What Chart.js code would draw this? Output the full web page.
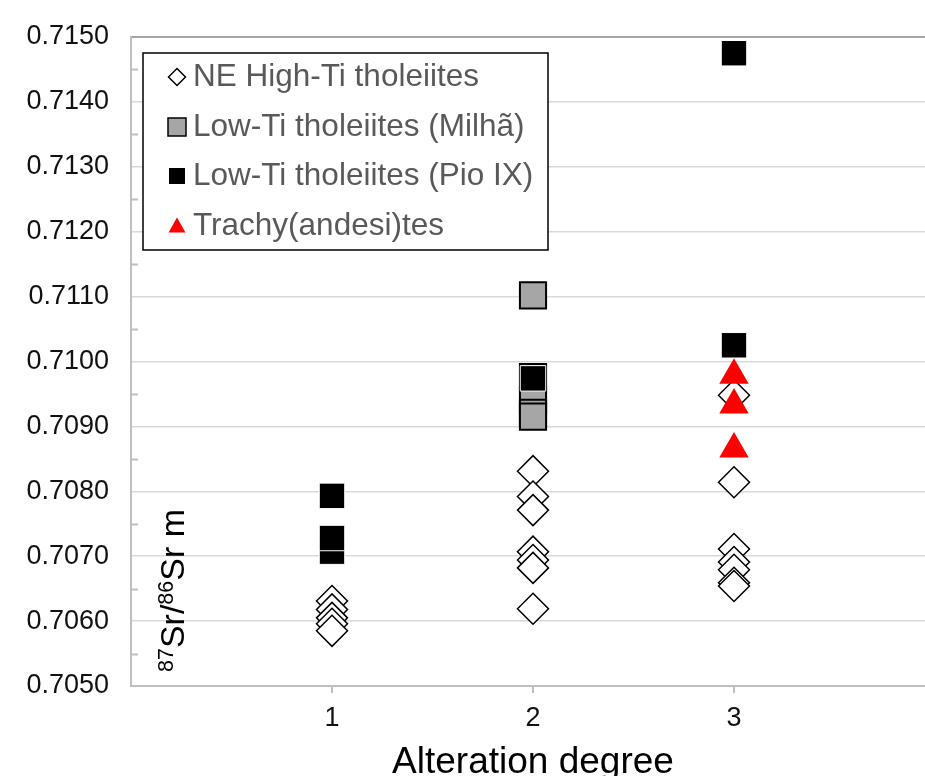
<!DOCTYPE html>
<html><head><meta charset="utf-8">
<script src="https://cdn.jsdelivr.net/npm/chart.js@4.4.1/dist/chart.umd.min.js"></script>
<style>
html,body{margin:0;padding:0;overflow:hidden;background:#fff;width:925px;height:776px}
#wrap{position:absolute;left:0;top:0;width:935px;height:800px}
</style></head>
<body><div id="wrap"><canvas id="c" width="935" height="800"></canvas></div>
<script>
// ---- data ----
const seriesNames = ['NE High-Ti tholeiites', 'Low-Ti tholeiites (Milhã)', 'Low-Ti tholeiites (Pio IX)', 'Trachy(andesi)tes'];
const xTickValues = [1, 2, 3];
const yTickStep = 0.001;
const yMin = 0.7050, yMax = 0.7150;
const xMin = 0, xMax = 4;
const xTitle = 'Alteration degree';

const neHighTiX = [1, 1, 1, 1, 1, 2, 2, 2, 2, 2, 2, 2, 3, 3, 3, 3, 3, 3, 3];
const neHighTiY = [0.70631, 0.70618, 0.70605, 0.70596, 0.70585,
                   0.70831, 0.70792, 0.70771, 0.70707, 0.70694, 0.70682, 0.70619,
                   0.70948, 0.70814, 0.70711, 0.70691, 0.70679, 0.70659, 0.70654];
const milhaX = [2, 2, 2, 2, 2];
const milhaY = [0.71102, 0.70976, 0.70941, 0.70921, 0.70915];
const pioIXX = [1, 1, 1, 2, 3, 3];
const pioIXY = [0.70707, 0.70728, 0.70793, 0.70974, 0.71475, 0.71025];
const trachyX = [3, 3, 3];
const trachyY = [0.70979, 0.70933, 0.70865];

const pts = (xs, ys) => xs.map((x, i) => ({x: x, y: ys[i]}));

const FONT = "'Liberation Sans', Arial, Helvetica, sans-serif";
Chart.defaults.font.family = FONT;

const seriesStyles = [
  {pointStyle: 'rectRot', pointRadius: 15.5, backgroundColor: '#ffffff', borderColor: '#000000', borderWidth: 1.5, order: 4},
  {pointStyle: 'rect', pointRadius: 18.5, backgroundColor: '#a6a6a6', borderColor: '#000000', borderWidth: 2, order: 3},
  {pointStyle: 'rect', pointRadius: 18, backgroundColor: '#000000', borderColor: '#ffffff', borderWidth: 1, order: 2},
  {pointStyle: 'triangle', pointRadius: 17, backgroundColor: '#ff0000', borderColor: '#ff0000', borderWidth: 0, order: 1}
];
const seriesData = [pts(neHighTiX, neHighTiY), pts(milhaX, milhaY), pts(pioIXX, pioIXY), pts(trachyX, trachyY)];

// minor ticks on y axis (midpoints of major ticks), drawn through the scale
const minorTicks = {
  id: 'minorTicks',
  beforeDatasetsDraw(chart) {
    const y = chart.scales.y, ctx = chart.ctx;
    const t = y.ticks.map(k => k.value);
    ctx.save();
    ctx.strokeStyle = '#bfbfbf';
    ctx.lineWidth = 2;
    for (let i = 0; i < t.length - 1; i++) {
      const py = Math.round(y.getPixelForValue((t[i] + t[i + 1]) / 2)) + 0.5;
      ctx.beginPath();
      ctx.moveTo(y.right, py);
      ctx.lineTo(y.right + 7, py);
      ctx.stroke();
    }
    ctx.restore();
  }
};

function drawMarker(ctx, style, x, y, s) {
  ctx.beginPath();
  if (style === 'diamond') {
    ctx.moveTo(x - s, y); ctx.lineTo(x, y - s); ctx.lineTo(x + s, y); ctx.lineTo(x, y + s); ctx.closePath();
  } else if (style === 'square') {
    ctx.rect(x - s, y - s, 2 * s, 2 * s);
  } else {
    ctx.moveTo(x, y - s); ctx.lineTo(x + s, y + s * 0.75); ctx.lineTo(x - s, y + s * 0.75); ctx.closePath();
  }
}

// legend box inside the plot area
const boxLegend = {
  id: 'boxLegend',
  afterDatasetsDraw(chart) {
    const ctx = chart.ctx;
    const L = 143, T = 53, R = 548, B = 250;
    ctx.save();
    ctx.fillStyle = '#ffffff';
    ctx.fillRect(L, T, R - L, B - T);
    ctx.strokeStyle = '#000000';
    ctx.lineWidth = 1.5;
    ctx.strokeRect(L, T, R - L, B - T);
    const rows = [77, 127, 176, 226];
    const mx = 177;
    const marks = [
      {k: 'diamond', s: 8.5, fill: '#ffffff', stroke: '#000000', lw: 1.5},
      {k: 'square', s: 9, fill: '#a6a6a6', stroke: '#000000', lw: 1.5},
      {k: 'square', s: 8, fill: '#000000', stroke: null, lw: 0},
      {k: 'tri', s: 8.5, fill: '#ff0000', stroke: null, lw: 0}
    ];
    marks.forEach((m, i) => {
      drawMarker(ctx, m.k, mx, rows[i], m.s);
      ctx.fillStyle = m.fill; ctx.fill();
      if (m.stroke) { ctx.strokeStyle = m.stroke; ctx.lineWidth = m.lw; ctx.stroke(); }
    });
    ctx.fillStyle = '#595959';
    ctx.font = '31.5px ' + FONT;
    ctx.textBaseline = 'middle';
    ctx.textAlign = 'left';
    seriesNames.forEach((n, i) => ctx.fillText(n, 193, rows[i]));
    ctx.restore();
  }
};

// rotated y title with superscripts
const yTitle = {
  id: 'yTitle',
  afterDraw(chart) {
    const ctx = chart.ctx;
    const parts = [
      {t: '87', sup: true}, {t: 'Sr/', sup: false}, {t: '86', sup: true}, {t: 'Sr m', sup: false}
    ];
    const big = 34, small = 21.5, raise = 10.5;
    ctx.save();
    ctx.translate(183.5, 672);
    ctx.rotate(-Math.PI / 2);
    ctx.fillStyle = '#000000';
    ctx.textBaseline = 'alphabetic';
    ctx.textAlign = 'left';
    let x = 0;
    parts.forEach(p => {
      ctx.font = (p.sup ? small : big) + 'px ' + FONT;
      ctx.fillText(p.t, x, p.sup ? -raise : 0);
      x += ctx.measureText(p.t).width;
    });
    ctx.restore();
  }
};

new Chart(document.getElementById('c'), {
  type: 'scatter',
  data: {
    datasets: seriesNames.map((n, i) => Object.assign({label: n, data: seriesData[i]}, seriesStyles[i]))
  },
  options: {
    responsive: false,
    animation: false,
    devicePixelRatio: 1,
    layout: {autoPadding: false, padding: {top: 37, left: 0, right: 0, bottom: 0}},
    plugins: {legend: {display: false}, tooltip: {enabled: false}},
    scales: {
      x: {
        type: 'linear', min: xMin, max: xMax,
        afterFit: s => { s.height = 800 - 686; s.paddingLeft = 0; s.paddingRight = 0; },
        afterBuildTicks: s => { s.ticks = xTickValues.map(v => ({value: v})); },
        ticks: {color: '#111111', font: {size: 27}, padding: 9, callback: v => String(v)},
        grid: {drawOnChartArea: false, drawTicks: true, tickLength: 7, color: '#bfbfbf', lineWidth: 2},
        border: {display: true, color: '#bfbfbf', width: 2},
        title: {display: true, text: xTitle, color: '#000000', font: {size: 37}, padding: {top: 0, bottom: 15}}
      },
      y: {
        min: yMin, max: yMax,
        afterFit: s => { s.width = 131; s.paddingTop = 0; s.paddingBottom = 0; },
        ticks: {stepSize: yTickStep, padding: 22, color: '#111111', font: {size: 27}, callback: v => Number(v).toFixed(4)},
        grid: {
          drawTicks: false,
          color: c => (c.tick && Math.abs(c.tick.value - yMax) < 1e-7) ? '#a6a6a6' : '#d9d9d9',
          lineWidth: c => (c.tick && Math.abs(c.tick.value - yMax) < 1e-7) ? 2 : 1.5
        },
        border: {display: true, color: '#bfbfbf', width: 2}
      }
    }
  },
  plugins: [minorTicks, boxLegend, yTitle]
});
</script>
</body></html>
